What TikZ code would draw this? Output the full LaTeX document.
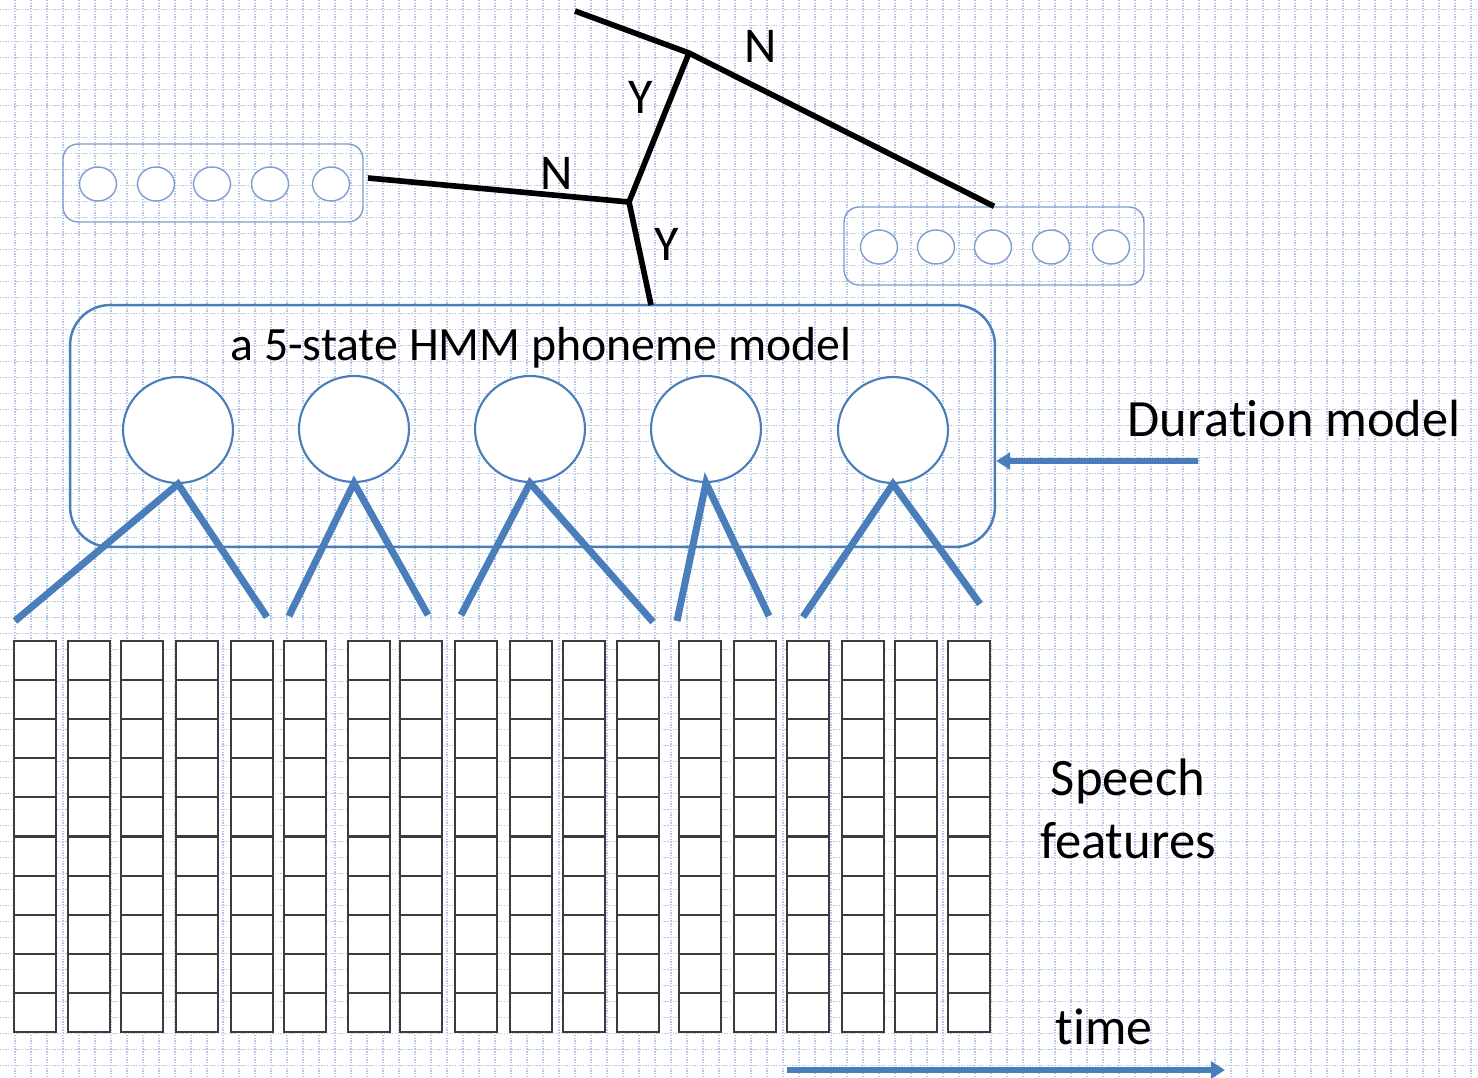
\documentclass[tikz,border=0pt]{standalone}
\usepackage{fontspec}
\setmainfont{Carlito}[RawFeature={-liga}]
\usetikzlibrary{shapes.geometric,arrows.meta}
\definecolor{hmmblue}{HTML}{4A7EBB}
\definecolor{paleblue}{HTML}{7F9ED0}
\definecolor{dotblue}{HTML}{B4C6E4}
\definecolor{cellgray}{HTML}{3C3C3C}
\tikzset{
  state/.style={draw=hmmblue, line width=1.2pt, fill=white, ellipse, minimum width=2.2cm, minimum height=2.12cm, inner sep=0pt},
  mini/.style={draw=paleblue, line width=0.8pt, fill=white, ellipse, minimum width=0.74cm, minimum height=0.68cm, inner sep=0pt},
  minibox/.style={draw=paleblue, line width=0.8pt, rounded corners=0.3cm, minimum width=6cm, minimum height=1.56cm},
  hmmbox/.style={draw=hmmblue, line width=1.4pt, rounded corners=0.8cm, minimum width=18.5cm, minimum height=4.84cm},
  emit/.style={hmmblue, line width=4pt},
  branch/.style={black, line width=3.2pt},
  bigarrow/.style={hmmblue, line width=3.2pt, -{Triangle[length=8pt,width=9.5pt]}},
  cell/.style={draw=cellgray, line width=1.2pt, fill=white},
  gridline/.style={dotblue, line width=0.75pt, dash pattern=on 0.75pt off 0.8pt},
  txt/.style={font=\fontsize{28.5}{34}\selectfont, anchor=base, inner sep=0pt}
}
\begin{document}
\begin{tikzpicture}[x=0.02cm,y=-0.02cm]
    \useasboundingbox (0,0) rectangle (1478,1078);
    \fill[white] (0,0) rectangle (1478,1078);
    % dotted paper
    \foreach \k in {0,...,91}
        \draw[gridline] ({15+16*\k},0) -- ({15+16*\k},1078);
    \foreach \k in {0,...,66}
        \draw[gridline] (0,{9.7+16*\k}) -- (1478,{9.7+16*\k});

    % decision tree leaves
    \path (213,183) node[minibox] (lbox) {};
    \path (994,246) node[minibox] (rbox) {};
    \foreach \mx [count=\i] in {98,156,212,270,331}
        \path (\mx,184) node[mini] (l\i) {};
    \foreach \mx [count=\i] in {879,936,993,1051,1111}
        \path (\mx,247) node[mini] (r\i) {};

    % HMM
    \path (532.5,426) node[hmmbox] (hmm) {};
    \path (541,360) node[txt, font=\fontsize{27.2}{32}\selectfont] (title) {a 5-state HMM phoneme model};
    \path (178,430) node[state] (s1) {};
    \path (354,429) node[state] (s2) {};
    \path (530,429) node[state] (s3) {};
    \path (706,429) node[state] (s4) {};
    \path (893,430) node[state] (s5) {};

    % tree branches
    \coordinate (t0) at (575,11);
    \coordinate (j1) at (689,53);
    \coordinate (j2) at (629,202);
    \coordinate (lend) at (368,178);
    \coordinate (hmmtop) at (651,305);
    \draw[branch] (t0) -- (j1) -- (rbox.north);
    \draw[branch] (j1) -- (j2);
    \draw[branch] (lend) -- (j2) -- (hmmtop);
    \node[txt] (n1) at (761,63) {N};
    \node[txt] (y1) at (641,113) {Y};
    \node[txt] (n2) at (557,190) {N};
    \node[txt] (y2) at (667,260) {Y};

    % emissions
    \coordinate (e1a) at (15,621);  \coordinate (e1b) at (267,617);
    \coordinate (e2a) at (289,616); \coordinate (e2b) at (428,615);
    \coordinate (e3a) at (461,615); \coordinate (e3b) at (653,622);
    \coordinate (e4a) at (677,621); \coordinate (e4b) at (769,616);
    \coordinate (e5a) at (803,617); \coordinate (e5b) at (980,604);
    \draw[emit] (e1a) -- (s1.south) -- (e1b);
    \draw[emit] (e2a) -- (s2.south) -- (e2b);
    \draw[emit] (e3a) -- (s3.south) -- (e3b);
    \draw[emit] (e4a) -- (s4.south) -- (e4b);
    \draw[emit] (e5a) -- (s5.south) -- (e5b);

    % speech feature frames
    \foreach \fx in {14,68,121,176,231,284,348,400,455,510,563,617,679,734,787,842,895,948}
        \foreach \r in {0,...,9}
            \draw[cell] (\fx,{641+39.1*\r}) rectangle ++(42,39.1);

    % side labels
    \node[txt, font=\fontsize{29.8}{35}\selectfont] (dur) at (1294,436) {Duration model};
    \coordinate (dtail) at (1198,461);
    \draw[bigarrow] (dtail) -- (dtail -| hmm.east);
    \node[txt, font=\fontsize{30}{35}\selectfont] (speech) at (1128,795) {Speech};
    \node[txt, font=\fontsize{30}{35}\selectfont] (feat) at (1128,858) {features};
    \node[txt, font=\fontsize{29.5}{35}\selectfont] (time) at (1104,1044) {time};
    \coordinate (t1) at (787,1070);
    \coordinate (t2) at (1225,1070);
    \draw[bigarrow] (t1) -- (t2);
\end{tikzpicture}
\end{document}
